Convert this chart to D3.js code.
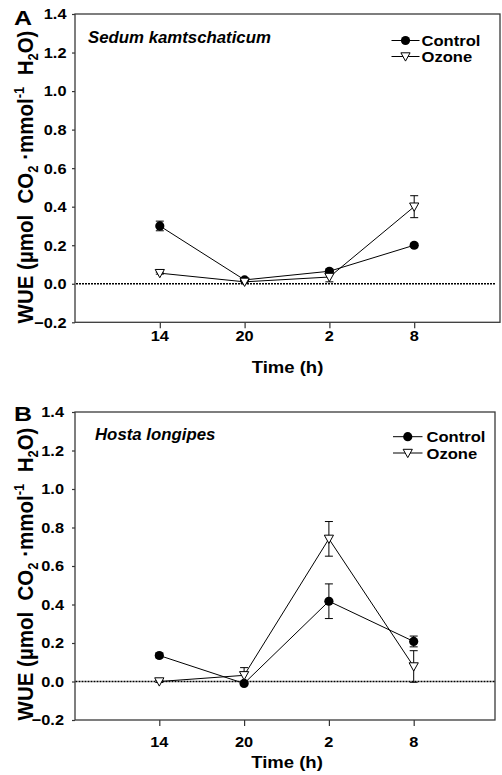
<!DOCTYPE html>
<html><head><meta charset="utf-8">
<script src="https://cdn.jsdelivr.net/npm/d3@7"></script>
<style>
body{margin:0;background:#fff}
text{font-family:"Liberation Sans",Arial,sans-serif;font-weight:bold;fill:#000;white-space:pre}
</style>
</head><body>
<svg id="c" width="502" height="775"></svg>
<script>
// ---- data ----
const timeLabels = ["14", "20", "2", "8"];
const yTickValues = [-0.2, 0.0, 0.2, 0.4, 0.6, 0.8, 1.0, 1.2, 1.4];
const seriesNames = ["Control", "Ozone"];
const sedumControl    = [0.300, 0.020, 0.065, 0.200];
const sedumControlErr = [0.025, 0.008, 0.012, 0.010];
const sedumOzone      = [0.055, 0.010, 0.035, 0.400];
const sedumOzoneErr   = [0.005, 0.008, 0.025, 0.057];
const hostaControl    = [0.135, -0.010, 0.417, 0.208];
const hostaControlErr = [0.012, 0.006, 0.090, 0.028];
const hostaOzone      = [0.000, 0.032, 0.741, 0.078];
const hostaOzoneErr   = [0.005, 0.040, 0.090, 0.082];

// ---- layout ----
const panels = [
  {label: "A", species: "Sedum kamtschaticum",
   control: sedumControl, controlErr: sedumControlErr, ozone: sedumOzone, ozoneErr: sedumOzoneErr,
   left: 75, right: 500, top: 14, bottom: 322.3, xr: [75, 499], dotEnd: 495,
   yLabRight: 66.5, xLabY: 340.7, xTitleY: 372.5, panelXY: [14, 25], speciesXY: [88, 43],
   leg: {x0: 391.5, x1: 419.5, tx: 421.5, y: [40.5, 56.5]}, yTitleCY: 177},
  {label: "B", species: "Hosta longipes",
   control: hostaControl, controlErr: hostaControlErr, ozone: hostaOzone, ozoneErr: hostaOzoneErr,
   left: 75, right: 495, top: 412, bottom: 720, xr: [74.5, 498.5], dotEnd: 495,
   yLabRight: 64, xLabY: 747.3, xTitleY: 768.3, panelXY: [14, 421], speciesXY: [95, 440],
   leg: {x0: 393, x1: 422.5, tx: 426.5, y: [436.7, 453]}, yTitleCY: 574}
];

const svg = d3.select("#c");
svg.append("rect").attr("width", 502).attr("height", 775).attr("fill", "#fff");
const SX = 1.09; // horizontal stretch of the original figure's text

function stext(g, x, y, str, size, anchor, sx, italic) {
  return g.append("text")
    .attr("transform", `translate(${x},${y}) scale(${sx},1)`)
    .attr("text-anchor", anchor)
    .style("font-size", size + "px")
    .style("font-style", italic ? "italic" : "normal")
    .text(str);
}
const triPath = "M-4.6,-3.7L4.6,-3.7L0,4.6Z";

panels.forEach(p => {
  const g = svg.append("g");
  const x = d3.scaleLinear().domain([0, 5]).range(p.xr);
  const y = d3.scaleLinear().domain([-0.2, 1.4]).range([p.bottom, p.top]);

  // y axis ticks (outward)
  const ya = g.append("g").attr("transform", `translate(${p.left},0)`)
    .call(d3.axisLeft(y).tickValues(yTickValues).tickSize(3).tickFormat(""));
  ya.select(".domain").remove();
  ya.selectAll("line").attr("stroke", "#333").attr("stroke-width", 1.2);
  // x axis ticks (outward)
  const xa = g.append("g").attr("transform", `translate(0,${p.bottom})`)
    .call(d3.axisBottom(x).tickValues([1, 2, 3, 4]).tickSize(6).tickFormat(""));
  xa.select(".domain").remove();
  xa.selectAll("line").attr("stroke", "#333").attr("stroke-width", 1.2);

  // frame
  g.append("rect").attr("x", p.left).attr("y", p.top)
    .attr("width", p.right - p.left).attr("height", p.bottom - p.top)
    .attr("fill", "none").attr("stroke", "#3a3a3a").attr("stroke-width", 1.3);

  // tick labels
  yTickValues.forEach(v => stext(g, p.yLabRight, y(v) + 5.4, d3.format(".1f")(v), 15, "end", SX));
  timeLabels.forEach((t, i) => stext(g, x(i + 1), p.xLabY, t, 15, "middle", SX));

  // axis titles
  stext(g, (p.xr[0] + p.xr[1]) / 2 + 0.5, p.xTitleY, "Time (h)", 17, "middle", SX);
  const yt = g.append("text")
    .attr("transform", `translate(33,${p.yTitleCY}) rotate(-90) scale(1,${SX})`)
    .attr("text-anchor", "middle").style("font-size", "20.5px");
  yt.append("tspan").text("WUE (µmol  CO");
  yt.append("tspan").attr("dy", 5).style("font-size", "13px").text("2");
  yt.append("tspan").attr("dy", -5).text(" ·mmol");
  yt.append("tspan").attr("dy", -8).style("font-size", "13px").text("-1");
  yt.append("tspan").attr("dy", 8).text("  H");
  yt.append("tspan").attr("dy", 5).style("font-size", "13px").text("2");
  yt.append("tspan").attr("dy", -5).text("O)");

  // panel label & species
  stext(g, p.panelXY[0], p.panelXY[1], p.label, 20, "start", 1.25);
  stext(g, p.speciesXY[0], p.speciesXY[1], p.species, 16, "start", 1.05, true);

  // zero reference line
  g.append("line").attr("x1", x(0) + 1).attr("x2", p.dotEnd).attr("y1", y(0)).attr("y2", y(0))
    .attr("stroke", "#000").attr("stroke-width", 1.6).attr("stroke-dasharray", "2,1");

  const line = d3.line().x((d, i) => x(i + 1)).y(d => y(d));
  const series = [
    {vals: p.control, errs: p.controlErr, kind: "circle"},
    {vals: p.ozone, errs: p.ozoneErr, kind: "tri"}
  ];
  series.forEach(s => {
    g.append("path").attr("d", line(s.vals)).attr("fill", "none")
      .attr("stroke", "#000").attr("stroke-width", 1);
  });
  series.forEach(s => {
    s.vals.forEach((v, i) => {
      const cx = x(i + 1), e = s.errs[i];
      const y1 = y(v + e), y2 = y(v - e);
      g.append("line").attr("x1", cx).attr("x2", cx).attr("y1", y1).attr("y2", y2)
        .attr("stroke", "#000").attr("stroke-width", 1);
      [y1, y2].forEach(yy => g.append("line").attr("x1", cx - 4).attr("x2", cx + 4)
        .attr("y1", yy).attr("y2", yy).attr("stroke", "#000").attr("stroke-width", 1));
    });
  });
  series.forEach(s => {
    s.vals.forEach((v, i) => {
      if (s.kind === "circle") {
        g.append("circle").attr("cx", x(i + 1)).attr("cy", y(v)).attr("r", 4.6).attr("fill", "#000");
      } else {
        g.append("path").attr("d", triPath).attr("transform", `translate(${x(i + 1)},${y(v)})`)
          .attr("fill", "#fff").attr("stroke", "#000").attr("stroke-width", 1);
      }
    });
  });

  // legend
  const L = p.leg;
  seriesNames.forEach((name, k) => {
    const ly = L.y[k];
    g.append("line").attr("x1", L.x0).attr("x2", L.x1).attr("y1", ly).attr("y2", ly)
      .attr("stroke", "#000").attr("stroke-width", 1);
    if (k === 0) {
      g.append("circle").attr("cx", (L.x0 + L.x1) / 2).attr("cy", ly).attr("r", 4.6).attr("fill", "#000");
    } else {
      g.append("path").attr("d", triPath).attr("transform", `translate(${(L.x0 + L.x1) / 2},${ly})`)
        .attr("fill", "#fff").attr("stroke", "#000").attr("stroke-width", 1);
    }
    stext(g, L.tx, ly + 5.6, name, 15.5, "start", 1.07);
  });
});
</script>
</body></html>
